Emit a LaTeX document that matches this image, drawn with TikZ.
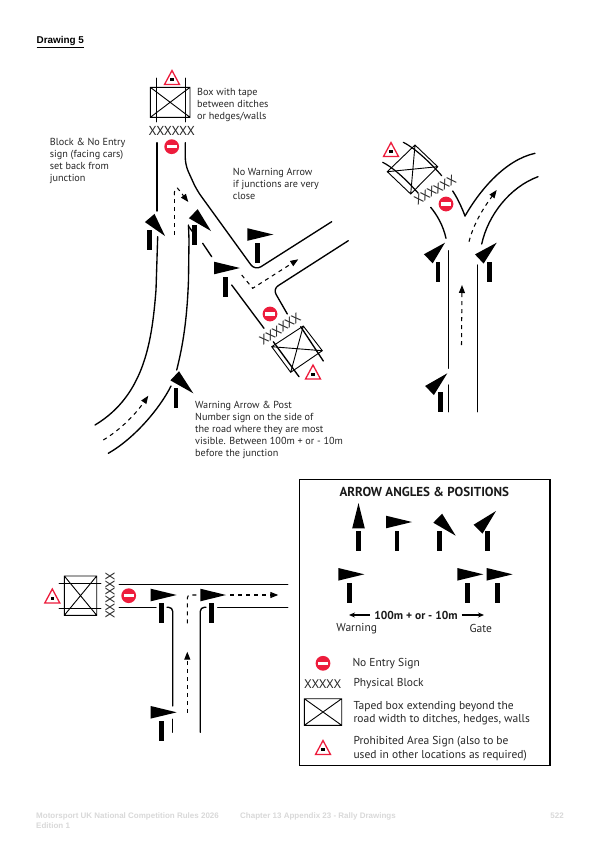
\documentclass[tikz,border=0pt]{standalone}
\usepackage{fontspec}
\setmainfont{PT Sans}
\newfontfamily\arialf{Liberation Sans}
\usetikzlibrary{calc,arrows.meta}
\definecolor{signred}{HTML}{ED1C3C}
\definecolor{footgrey}{HTML}{D8D8D8}
\newcommand\flagsign[6]{%
  \fill[black] ($(#3,#4)!6.3pt!90:(#5,#6)$) -- ($(#3,#4)!6.3pt!-90:(#5,#6)$) -- (#5,#6) -- cycle;
  \fill[black] (#1-2,#2) rectangle ++(4.2,20);}
\newcommand\noentry[2]{%
  \fill[signred] (#1,#2) circle (7.4);
  \fill[white] (#1-5,#2-1.6) rectangle (#1+5,#2+1.6);}
\newcommand\warnsign[2]{%
  \draw[signred,line width=1.3pt,line join=miter,fill=white] (#1,#2-7.5) -- (#1+7.5,#2+6.5) -- (#1-7.5,#2+6.5) -- cycle;
  \fill[black] (#1-1.6,#2+0.1) rectangle (#1+1.6,#2+3.3);}
\tikzset{
  x=1pt,y=-1pt,
  road/.style={line width=1.35pt,line cap=round},
  tape/.style={line width=0.9pt},
  route/.style={line width=1.05pt,dash pattern=on 4pt off 4pt,-{Triangle[length=8pt,width=6pt]}},
  routeplain/.style={line width=1.05pt,dash pattern=on 4pt off 4pt},
  label/.style={anchor=north west,align=left,font=\fontsize{10.2}{11.9}\selectfont,inner sep=0pt,text=black!85},
  legendtext/.style={anchor=west,align=left,font=\fontsize{11.5}{13.4}\selectfont,inner sep=0pt,text=black!85},
  xmark/.style={font=\fontsize{13}{14}\selectfont,inner sep=0pt,text=black!85},
  foot/.style={anchor=base west,inner sep=0pt,font=\arialf\bfseries\fontsize{8}{10}\selectfont,text=footgrey},
  boxcross/.style={tape,draw=black},
}
\begin{document}
\begin{tikzpicture}
\useasboundingbox (0,0) rectangle (600,849);
\node[anchor=base west,inner sep=0pt,font=\arialf\bfseries\fontsize{9.9}{11}\selectfont] (title) at (36.5,43.5) {\underline{Drawing 5}};

% ---------- top-left drawing
\draw[road] (156.3,78.3) -- (156.3,121.7);
\draw[road] (185.7,78.3) -- (185.7,121.7);
\draw[boxcross] (150.3,87.3) rectangle (190,117.3) (150.3,87.3) -- (190,117.3) (190,87.3) -- (150.3,117.3);
\warnsign{172}{78}
\node[xmark] (xa) at (171.7,130.7) {XXXXXX};
\noentry{171.7}{146.7}
\draw[road] (157,142.7) -- (157,211);
\draw[road] (157.7,236.7) -- (156,290) .. controls (152,340) and (145,395) .. (95,425);
\draw[road] (188.5,225) -- (189,240) -- (188.5,280) .. controls (187,320) and (183,345) .. (176.7,370);
\draw[road] (188.3,226) -- (195,235);
\draw[road] (171,386) .. controls (160,408) and (135,438) .. (108.3,453.3);
\draw[road,rounded corners=7pt] (185.3,142.7) -- (185.3,165) -- (196.7,190) -- (255,270.5) -- (331.7,221.7);
\draw[road,rounded corners=6pt] (348.3,240.7) -- (273,289) -- (287.3,314);
\draw[road] (231.7,285) -- (264,328.3);
\draw[road] (202.7,243.3) -- (211.7,256.7);
\draw[routeplain] (174.3,235) -- (174.3,195);
\draw[route] (174.3,195) .. controls (174.3,188) and (177,186) .. (179,190) -- (188.3,202);
\draw[route] (241.7,275) -- (252.7,288.3) -- (298.3,259.3);
\draw[route] (103.3,440) .. controls (120,430) and (135,415) .. (148.3,395.7);
\noentry{270}{314}
\node[xmark,rotate=33] (xb) at (280,329) {XXXXXX};
\draw[boxcross] (271.7,346.7) -- (303.3,326) -- (322.3,350.7) -- (290.7,372.3) -- cycle (271.7,346.7) -- (322.3,350.7) (303.3,326) -- (290.7,372.3);
\draw[road] (273.3,341.7) -- (299,376.7);
\draw[road] (300.7,326.7) -- (323.3,361);
\warnsign{313}{372.5}
\flagsign{149.3}{230}{149.7}{218}{165}{236}
\flagsign{194.3}{225}{193.3}{213.7}{211}{231}
\flagsign{257.3}{242.7}{247.3}{234.5}{273.3}{234.5}
\flagsign{225.3}{276.7}{214}{268}{240}{268}
\flagsign{176}{388.3}{174.7}{375.8}{193.3}{393.3}
\node[label] (t1) at (197,88) {Box with tape\\between ditches\\or hedges/walls};
\node[label] (t2) at (49.7,138) {Block \& No Entry\\sign (facing cars)\\set back from\\junction};
\node[label] (t3) at (232.7,168) {No Warning Arrow\\if junctions are very\\close};
\node[label] (t4) at (195,401) {Warning Arrow \& Post\\Number sign on the side of\\the road where they are most\\visible. Between 100m + or - 10m\\before the junction};

% ---------- top-right drawing
\draw[road] (448.3,250.7) -- (448.3,368.3);
\draw[road] (448.3,385) -- (448.3,411.7);
\draw[road] (477.7,265) -- (477.7,411.7);
\draw[road] (446,238.3) .. controls (443,225) and (437,215) .. (430.7,207.3);
\draw[road] (481.7,244) .. controls (488,215) and (510,187) .. (538,176.7);
\draw[road] (452.7,191) .. controls (458,199) and (462,208) .. (465,216);
\draw[road] (465,216) .. controls (480,190) and (505,160) .. (535,153.3);
\draw[boxcross] (387.3,171.7) -- (415,145) -- (437.7,166.7) -- (410.7,194) -- cycle (387.3,171.7) -- (437.7,166.7) (415,145) -- (410.7,194);
\draw[road,line width=1.2pt] (382.7,162.3) .. controls (392,167) and (405,178) .. (418.3,193.3);
\draw[road,line width=1.2pt] (403.3,142.3) .. controls (413,147) and (428,160) .. (441.7,175.7);
\warnsign{391}{150}
\node[xmark,rotate=31] (xc) at (435,190) {XXXXXX};
\noentry{446}{204}
\draw[route] (469,241.7) .. controls (474,222) and (485,206) .. (496.7,190);
\draw[route] (461.5,345) -- (462,285);
\flagsign{437.7}{261.7}{428.3}{258.8}{445}{242.7}
\flagsign{489.3}{261.7}{479.3}{259}{496.7}{242.7}
\flagsign{440.3}{392.3}{429.5}{390.5}{447.3}{373.3}

% ---------- bottom-left drawing
\draw[road] (59.3,583.3) -- (100.7,583.3);
\draw[road] (59.3,608.3) -- (100.7,608.3);
\draw[boxcross] (64.3,576) rectangle (96.7,615.3) (64.3,576) -- (96.7,615.3) (96.7,576) -- (64.3,615.3);
\warnsign{52.3}{596.5}
\node[xmark,rotate=90] (xd) at (110,595.7) {XXXXXX};
\noentry{128.7}{595.7}
\draw[road] (119.3,584.3) -- (287.7,584.3);
\draw[road] (119.3,607.3) -- (156,607.3);
\draw[road] (217.7,607.3) -- (287.7,607.3);
\draw[road,rounded corners=4pt] (167,607.3) -- (172.7,607.3) -- (172.7,706);
\draw[road] (172.7,719.3) -- (172.7,732.3);
\draw[road,rounded corners=4pt] (206,607.3) -- (200.3,607.3) -- (200.3,732.3);
\draw[routeplain,rounded corners=3pt] (187.3,623.3) -- (187.3,595) -- (198,595);
\draw[route] (230,595) -- (278.3,595);
\draw[route] (187.3,712.7) -- (187.3,651.7);
\flagsign{161.3}{603.3}{150.7}{595}{176.7}{595}
\flagsign{211.3}{603.3}{200.3}{595}{226}{595}
\flagsign{161.3}{720.7}{150.7}{712.3}{176.7}{712.3}

% ---------- legend
\draw[line width=1.5pt] (299.3,479.3) rectangle (550,765.7);
\node[inner sep=0pt,font=\bfseries\fontsize{13}{14}\selectfont,text=black!90] (lt) at (424.3,492.3) {ARROW ANGLES \& POSITIONS};
\flagsign{358.3}{530.6}{358.5}{528.3}{358.5}{503}
\flagsign{397}{530.6}{386}{522}{412}{522}
\flagsign{439.3}{530.6}{437.7}{518.2}{455.7}{535.7}
\flagsign{487.3}{530.6}{478}{529.2}{496}{511}
\flagsign{349.3}{583.3}{338.3}{574.3}{364.3}{574.3}
\flagsign{467.3}{583.3}{457.3}{574.3}{483.3}{574.3}
\flagsign{497.3}{583.3}{486.7}{574.3}{512.7}{574.3}
\node[inner sep=0pt,font=\bfseries\fontsize{11.5}{13}\selectfont,text=black!90] (dim) at (416,615.7) {100m + or - 10m};
\coordinate (al1) at (370,615);
\coordinate (al2) at (349,615);
\coordinate (ar1) at (461.7,615);
\coordinate (ar2) at (484,615);
\draw[line width=1.2pt,-{Stealth[length=6pt,width=5pt]}] (al1) -- (al2);
\draw[line width=1.2pt,-{Stealth[length=6pt,width=5pt]}] (ar1) -- (ar2);
\node[inner sep=0pt,font=\fontsize{11.5}{13}\selectfont,text=black!85] (w) at (356.7,628.3) {Warning};
\node[inner sep=0pt,font=\fontsize{11.5}{13}\selectfont,text=black!85] (g) at (480.7,628.3) {Gate};
\noentry{323}{663.3}
\node[legendtext] (l1) at (352.3,664) {No Entry Sign};
\node[xmark,font=\fontsize{12.5}{14}\selectfont] (xe) at (322.7,684) {XXXXX};
\node[legendtext] (l2) at (353.3,683.3) {Physical Block};
\draw[boxcross] (304.3,698.7) rectangle (341.7,725.3) (304.3,698.7) -- (341.7,725.3) (341.7,698.7) -- (304.3,725.3);
\node[legendtext] (l3) at (353.3,713) {Taped box extending beyond the\\road width to ditches, hedges, walls};
\warnsign{323}{748}
\node[legendtext] (l4) at (353.3,748.8) {Prohibited Area Sign (also to be\\used in other locations as required)};

% ---------- footer
\node[foot] (f1) at (36,818.5) {Motorsport UK National Competition Rules 2026};
\node[foot] (f2) at (36,828.5) {Edition 1};
\node[foot] (f3) at (240,818.5) {Chapter 13 Appendix 23 - Rally Drawings};
\node[foot,anchor=base east] (f4) at (564,818.5) {522};
\end{tikzpicture}
\end{document}
